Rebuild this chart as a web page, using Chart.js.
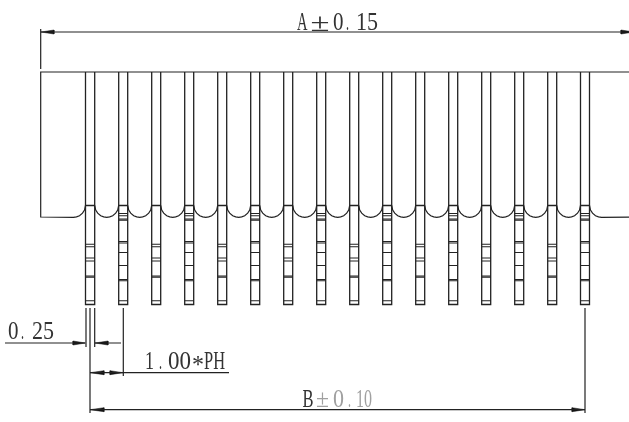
<!DOCTYPE html>
<html>
<head>
<meta charset="utf-8">
<title>Connector drawing</title>
<script src="https://cdn.jsdelivr.net/npm/chart.js@4"></script>
<style>
  html, body { margin: 0; padding: 0; background: #fff; }
  canvas { display: block; }
</style>
</head>
<body>
<canvas id="drawing" width="629" height="422"></canvas>
<script>
const pinLeft = [85.5, 118.7, 151.7, 184.7, 217.7, 250.7, 283.7, 316.7, 349.7, 382.7, 415.7, 448.7, 481.7, 514.7, 547.7, 580.5];
const pinRight = [94.7, 127.7, 160.7, 193.7, 226.7, 259.7, 292.7, 325.7, 358.7, 391.7, 424.7, 457.7, 490.7, 523.7, 556.7, 589.5];
const pinTop = 72;
const pinBottom = 304.5;
const shoulder = 205.5;

// cross lines on the pins, the two kinds alternate
const barsPlain = [244.3, 246.8, 258, 261, 276, 277.2, 300.8];
const barsNotched = [213.5, 215.8, 219, 220.2, 241.5, 243, 252.5, 265.5, 279.5, 280.7, 300.8];

// quarter of the scallop between two pins
const scallopDx = [0, 1, 3, 6, 9, 12];
const scallopDy = [0, 4.8, 7.9, 10.4, 11.6, 12];
const scallopBase = 205.3;

const bodyLeft = 40.7;
const bodyTop = 72;
const bodyBottom = 217;

const leaderLines = [
  [[41, 32], [640, 32]],
  [[40.7, 29], [40.7, 69]],
  [[5, 343], [85, 343]],
  [[94.7, 343], [121, 343]],
  [[86, 308], [86, 347]],
  [[90, 308], [90, 413]],
  [[94.7, 308], [94.7, 347]],
  [[123.3, 308], [123.3, 376]],
  [[90, 372.7], [229, 372.7]],
  [[90, 409.7], [585, 409.7]],
  [[585, 308], [585, 413]]
];

// tip x, tail x, y
const arrowHeads = [
  [41, 54, 32],
  [634, 621, 32],
  [85.5, 73, 343],
  [95, 108, 343],
  [90, 104, 372.7],
  [123, 110, 372.7],
  [90, 104, 409.7],
  [585, 572, 409.7]
];

// text, left, width, baseline
const blackText = [
  ['A', 297, 10.5, 30], ['±', 310.5, 19, 30.5], ['0', 333, 10.5, 30], ['.', 346, 3, 30], ['15', 356, 22, 30],
  ['0', 8, 10.5, 339], ['.', 21, 3, 339], ['25', 32, 22, 339],
  ['1', 145, 9, 369], ['.', 159, 3, 369], ['00', 168, 23, 369], ['*', 192, 12, 373], ['PH', 204, 21, 369],
  ['B', 302.5, 11, 406.5]
];
const greyText = [
  ['±', 316, 13, 406.5], ['0', 333, 11, 406.5], ['.', 348, 3, 406.5], ['10', 356, 16, 406.5]
];

const lineColor = '#222222';

function polyline(points) {
  return points.map((p) => ({ x: p[0], y: p[1] }));
}

// one data set per kind of line, a null point breaks the path
const breakPoint = { x: null, y: null };

const pinPoints = [];
const barPoints = [];
const scallopPoints = [];

for (let i = 0; i < pinLeft.length; i++) {
  const l = pinLeft[i];
  const r = pinRight[i];
  pinPoints.push({ x: l, y: pinTop }, { x: l, y: pinBottom }, { x: r, y: pinBottom }, { x: r, y: pinTop }, breakPoint);
  pinPoints.push({ x: l, y: shoulder }, { x: r, y: shoulder }, breakPoint);

  const bars = i % 2 === 0 ? barsPlain : barsNotched;
  for (const y of bars) {
    barPoints.push({ x: l, y: y }, { x: r, y: y }, breakPoint);
  }

  // scallop from this pin to the next one
  if (i < pinLeft.length - 1) {
    const next = pinLeft[i + 1];
    for (let k = 0; k < scallopDx.length; k++) {
      scallopPoints.push({ x: r + (scallopDx[k] * (next - r)) / 24, y: scallopBase + scallopDy[k] });
    }
    for (let k = scallopDx.length - 2; k >= 0; k--) {
      scallopPoints.push({ x: next - (scallopDx[k] * (next - r)) / 24, y: scallopBase + scallopDy[k] });
    }
    scallopPoints.push(breakPoint);
  }
}

// end scallops running out into the body's lower edge
for (let k = 0; k < scallopDx.length; k++) {
  scallopPoints.push({ x: pinLeft[0] - scallopDx[k], y: scallopBase + scallopDy[k] });
}
scallopPoints.push({ x: bodyLeft, y: bodyBottom }, { x: bodyLeft, y: bodyTop }, { x: 640, y: bodyTop }, breakPoint);
for (let k = 0; k < scallopDx.length; k++) {
  scallopPoints.push({ x: pinRight[15] + scallopDx[k], y: scallopBase + scallopDy[k] });
}
scallopPoints.push({ x: 640, y: bodyBottom });

const leaderPoints = [];
for (const seg of leaderLines) {
  leaderPoints.push(...polyline(seg), breakPoint);
}

function lineSet(points, width) {
  return {
    data: points,
    showLine: true,
    spanGaps: false,
    borderColor: lineColor,
    borderWidth: width,
    pointRadius: 0,
    tension: 0,
    fill: false
  };
}

const datasets = [lineSet(pinPoints, 1.3), lineSet(barPoints, 1.1), lineSet(scallopPoints, 1.2), lineSet(leaderPoints, 1.2)];

for (const a of arrowHeads) {
  datasets.push({
    data: [{ x: a[0], y: a[2] }, { x: a[1], y: a[2] - 2 }, { x: a[1], y: a[2] + 2 }, { x: a[0], y: a[2] }],
    showLine: true,
    borderColor: '#111111',
    borderWidth: 0.5,
    backgroundColor: '#111111',
    pointRadius: 0,
    tension: 0,
    fill: 'shape'
  });
}

// labels go through the same scales as the lines, each stretched to its width
const labelPlugin = {
  id: 'labelPlugin',
  afterDraw(chart) {
    const c = chart.ctx;
    const xs = chart.scales.x;
    const ys = chart.scales.y;
    const put = (items, color) => {
      c.fillStyle = color;
      c.textBaseline = 'alphabetic';
      c.font = '25px "Liberation Serif"';
      for (const t of items) {
        c.save();
        c.translate(xs.getPixelForValue(t[1]), ys.getPixelForValue(t[3]));
        c.scale(t[2] / c.measureText(t[0]).width, 1);
        c.fillText(t[0], 0, 0);
        c.restore();
      }
    };
    c.save();
    put(blackText, '#333333');
    put(greyText, '#a0a0a0');
    c.restore();
  }
};

new Chart(document.getElementById('drawing').getContext('2d'), {
  type: 'scatter',
  data: { datasets: datasets },
  options: {
    responsive: false,
    animation: false,
    devicePixelRatio: 1,
    layout: { padding: 0 },
    plugins: { legend: { display: false }, tooltip: { enabled: false }, title: { display: false } },
    scales: {
      x: { type: 'linear', min: 0, max: 629, display: false },
      y: { type: 'linear', min: 0, max: 422, reverse: true, display: false }
    }
  },
  plugins: [labelPlugin]
});
</script>
</body>
</html>
